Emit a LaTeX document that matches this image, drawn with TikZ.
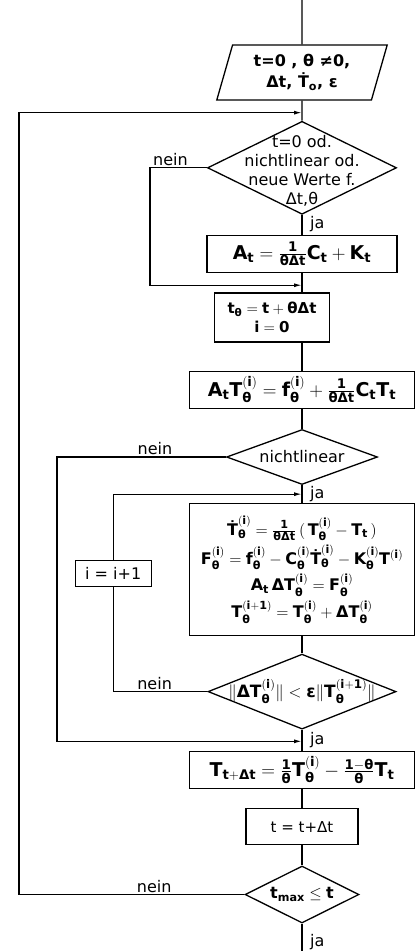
\RequirePackage{fix-cm}
\documentclass[tikz,border=0pt]{standalone}
\usepackage{amsmath}
\usepackage{fontspec}
\setmainfont{DejaVu Sans}
\usepackage{tikz}
\usetikzlibrary{shapes.geometric,arrows.meta,positioning,calc}

\newcommand{\vth}{\text{θ}}
\newcommand{\dl}{\text{Δ}}
\newcommand{\eps}{\text{ε}}
\newcommand{\dT}{\text{Ṫ}}

\begin{document}
\begin{tikzpicture}[
  x=1pt, y=-1pt,
  line width=1.3pt,
  font=\fontsize{16}{19}\selectfont,
  proc/.style={draw, rectangle, inner sep=2pt, font=\fontsize{19}{23}\selectfont\bfseries},
  dec/.style={draw, diamond, inner sep=0pt},
  io/.style={draw, trapezium, trapezium left angle=74, trapezium right angle=106,
    inner sep=2pt, align=center, font=\fontsize{16}{21}\selectfont\bfseries},
  dtxt/.style={inner sep=0pt, align=center},
  lbl/.style={inner sep=1.5pt},
  arr/.style={-{Latex[length=8pt,width=4pt]}}
]
\useasboundingbox (0,0) rectangle (416,951);

\coordinate (top) at (302,0);
\coordinate (base) at (0,951);
\coordinate (lx1) at (19,0);
\coordinate (lx2) at (150,0);
\coordinate (lx3) at (57,0);

\node[io, minimum width=149pt, minimum height=55pt] (inp) at (302,72.5)
  {t=0 , θ ≠0,\\Δt, $\dT_{\mathbf{o}}$, ε};
\node[dec, minimum width=189pt, minimum height=93pt, below=20pt of inp] (d1) {};
\node[dtxt, yshift=-3pt] (d1t) at (d1) {t=0 od.\\nichtlinear od.\\neue Werte f.\\Δt,θ};
\node[proc, minimum width=190pt, minimum height=37pt, below=20pt of d1] (bA)
  {$\mathbf{A_t = \frac{1}{\vth\dl t}C_t + K_t}$};
\node[proc, minimum width=115pt, minimum height=49pt, below=19pt of bA, xshift=-30pt,
  align=center, font=\fontsize{15}{19}\selectfont\bfseries] (bT)
  {$\mathbf{t_{\vth} = t + \vth\dl t}$\\$\mathbf{i=0}$};
\node[proc, minimum width=225pt, minimum height=37pt, below=28pt of bT, xshift=30pt] (bAT)
  {$\mathbf{A_tT^{(i)}_{\vth} = f^{(i)}_{\vth} + \frac{1}{\vth\dl t}C_tT_t}$};
\node[dec, minimum width=151pt, minimum height=55pt, below=20pt of bAT] (d2) {};
\node[dtxt] (d2t) at (d2) {nichtlinear};
\node[proc, minimum width=225pt, minimum height=132pt, below=18pt of d2, align=center,
  font=\fontsize{16}{19}\selectfont\bfseries] (bBig)
  {$\mathbf{\dT^{(i)}_{\vth} = \frac{1}{\vth\dl t}\,(\,T^{(i)}_{\vth} - T_t\,)}$\\[3pt]
   $\mathbf{F^{(i)}_{\vth} = f^{(i)}_{\vth} - C^{(i)}_{\vth}\dT^{(i)}_{\vth} - K^{(i)}_{\vth}T^{(i)}}$\\[3pt]
   $\mathbf{A_t\,\dl T^{(i)}_{\vth} = F^{(i)}_{\vth}}$\\[3pt]
   $\mathbf{T^{(i+1)}_{\vth} = T^{(i)}_{\vth} + \dl T^{(i)}_{\vth}}$};
\node[dec, minimum width=188pt, minimum height=75pt, below=17pt of bBig] (d3) {};
\node[dtxt, font=\fontsize{17}{20}\selectfont\bfseries] (d3t) at (d3)
  {$\mathbf{\|\dl T^{(i)}_{\vth}\| < \eps\|T^{(i+1)}_{\vth}\|}$};
\node[proc, minimum width=225pt, minimum height=37pt, below=21pt of d3] (bTn)
  {$\mathbf{T_{t+\dl t} = \frac{1}{\vth}T^{(i)}_{\vth} - \frac{1-\vth}{\vth}T_t}$};
\node[proc, minimum width=112pt, minimum height=36pt, below=19pt of bTn,
  font=\fontsize{15}{19}\selectfont] (bInc) {t = t+Δt};
\node[dec, minimum width=114pt, minimum height=57pt, below=20pt of bInc] (d4) {};
\node[dtxt, font=\fontsize{16}{19}\selectfont\bfseries] (d4t) at (d4) {$\mathbf{t_{max}\le t}$};
\node[proc, minimum width=76pt, minimum height=26pt, left=37pt of bBig, yshift=-4pt,
  font=\fontsize{16}{19}\selectfont] (inc) {i = i+1};

\coordinate (bot) at (d4.south |- base);
\coordinate (j1) at ($(inp.south)!0.6!(d1.north)$);
\coordinate (j2) at ($(bA.south)!0.63!(bA.south |- bT.north)$);
\coordinate (j3) at ($(d3.south)!0.55!(bTn.north)$);
\coordinate (j4) at ($(d2.south)!0.5!(bBig.north)$);

% main line
\draw (top) -- (inp);
\draw (inp) -- (d1);
\draw (d1) -- node[lbl, right, pos=0.45, xshift=6pt] (ja1) {ja} (bA);
\draw (bA.south) -- (bA.south |- bT.north);
\draw (bT.south -| bAT.north) -- (bAT.north);
\draw (bAT) -- (d2);
\draw (d2) -- node[lbl, right, pos=0.5, xshift=6pt] (ja2) {ja} (bBig);
\draw (bBig) -- (d3);
\draw (d3) -- node[lbl, right, pos=0.5, xshift=6pt] (ja3) {ja} (bTn);
\draw (bTn) -- (bInc);
\draw (bInc) -- (d4);
\draw (d4) -- node[lbl, right, pos=0.68, xshift=6pt] (ja4) {ja} (bot);

% back loops
\draw[arr] (d1.west) -- node[lbl, above, pos=0.64] (n1) {nein} (d1.west -| lx2) |- (j2);
\draw[arr] (d2.west) -- node[lbl, above, pos=0.42] (n2) {nein} (d2.west -| lx3) |- (j3);
\draw (d3.west) -- node[lbl, above, pos=0.56] (n3) {nein} (d3.west -| inc.south) -- (inc.south);
\draw[arr] (inc.north) |- (j4);
\draw[arr] (d4.west) -- node[lbl, above, pos=0.4] (n4) {nein} (d4.west -| lx1) |- (j1);
\end{tikzpicture}
\end{document}
